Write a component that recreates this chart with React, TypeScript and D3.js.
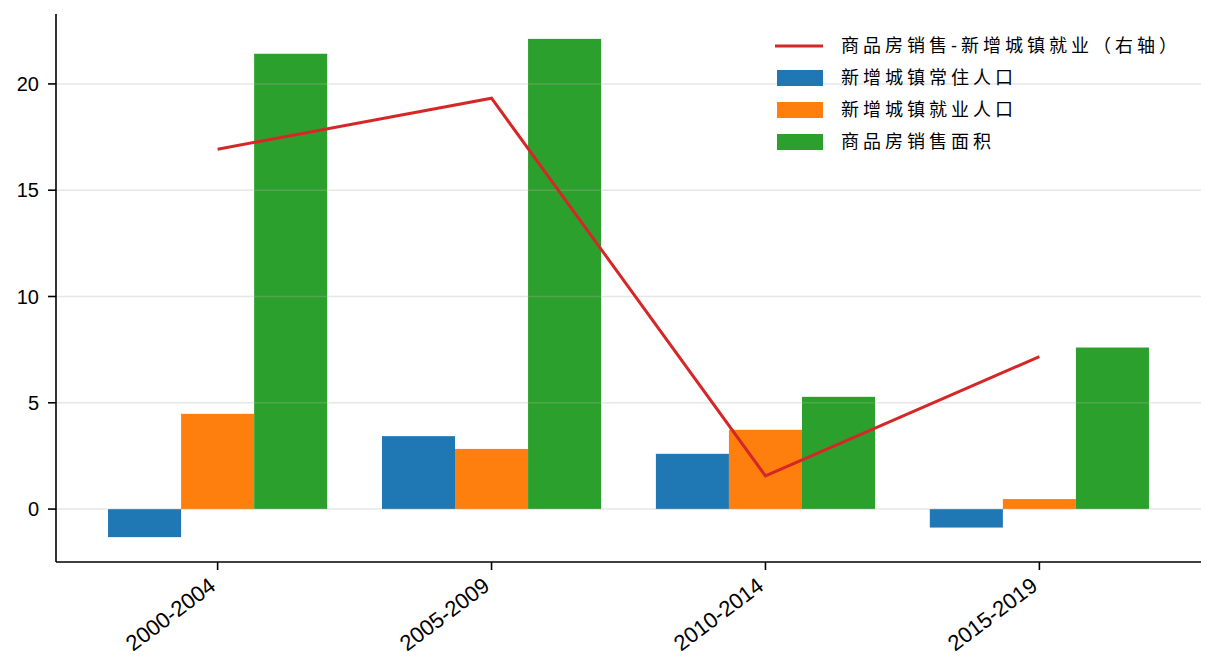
import * as d3 from "d3";

const periods = ["2000-2004", "2005-2009", "2010-2014", "2015-2019"];
const seriesNames = ["新增城镇常住人口", "新增城镇就业人口", "商品房销售面积"];
const seriesColors = ["#1f77b4", "#ff7f0e", "#2ca02c"];
const residentPop = [-1.32, 3.43, 2.6, -0.87];
const employedPop = [4.48, 2.83, 3.73, 0.47];
const salesArea = [21.42, 22.12, 5.28, 7.6];
const lineName = "商品房销售-新增城镇就业（右轴）";
const lineValues = [16.93, 19.33, 1.56, 7.17];
const yTicks = [0, 5, 10, 15, 20];

const W = 1216;
const H = 672;
const left = 56;
const right = 1201;
const top = 14;
const bottom = 562;
const font = '"Liberation Sans", Arial, "Noto Sans CJK SC", sans-serif';

export default function App() {
  const series = [residentPop, employedPop, salesArea];
  const barW = 0.8 / 3;

  const x = d3.scaleLinear().domain([-0.59, 3.59]).range([left, right]);
  const y = d3.scaleLinear().domain([-2.49, 23.29]).range([bottom, top]);
  // 右轴未显示刻度，与左轴取相同映射
  const yRight = y.copy();

  const line = d3
    .line<number>()
    .x((_, i) => x(i))
    .y((d) => yRight(d));

  return (
    <svg
      width={W}
      height={H}
      style={{ position: "absolute", left: 0, top: 0, background: "#fff" }}
      fontFamily={font}
    >
      <g>
        {series.map((vals, s) =>
          vals.map((v, i) => {
            const x0 = x(i - 0.4 + s * barW);
            const x1 = x(i - 0.4 + (s + 1) * barW);
            return (
              <rect
                key={`${s}-${i}`}
                x={x0}
                width={x1 - x0}
                y={Math.min(y(v), y(0))}
                height={Math.abs(y(v) - y(0))}
                fill={seriesColors[s]}
              />
            );
          })
        )}
      </g>
      <g>
        {yTicks.map((t) => (
          <line
            key={t}
            x1={left}
            x2={right}
            y1={y(t)}
            y2={y(t)}
            stroke="#b0b0b0"
            strokeOpacity={0.3}
            strokeWidth={1.5}
          />
        ))}
      </g>
      <path d={line(lineValues) ?? ""} fill="none" stroke="#d62728" strokeWidth={3} />
      <g>
        <line x1={left} x2={left} y1={top} y2={bottom} stroke="#000" strokeWidth={1.6} />
        <line x1={left} x2={right} y1={bottom} y2={bottom} stroke="#000" strokeWidth={1.6} />
        {yTicks.map((t) => (
          <g key={t}>
            <line x1={left - 8} x2={left} y1={y(t)} y2={y(t)} stroke="#000" strokeWidth={1.6} />
            <text x={left - 17} y={y(t)} dy="0.36em" textAnchor="end" fontSize={20}>
              {t}
            </text>
          </g>
        ))}
        {periods.map((p, i) => (
          <g key={p}>
            <line x1={x(i)} x2={x(i)} y1={bottom} y2={bottom + 8} stroke="#000" strokeWidth={1.6} />
            <text
              transform={`translate(${x(i) - 10},${bottom + 14}) rotate(-37)`}
              textAnchor="end"
              dy="0.72em"
              fontSize={22}
            >
              {p}
            </text>
          </g>
        ))}
      </g>
      <g transform="translate(775,46)" fontSize={18}>
        <line x1={0} x2={48} y1={0} y2={0} stroke="#d62728" strokeWidth={3} />
        <text x={66} y={0} dy="0.36em" letterSpacing={4}>
          {lineName}
        </text>
        {seriesNames.map((n, s) => (
          <g key={n} transform={`translate(0,${32 * (s + 1)})`}>
            <rect x={2} y={-8} width={46} height={16} fill={seriesColors[s]} />
            <text x={66} y={0} dy="0.36em" letterSpacing={4}>
              {n}
            </text>
          </g>
        ))}
      </g>
    </svg>
  );
}
